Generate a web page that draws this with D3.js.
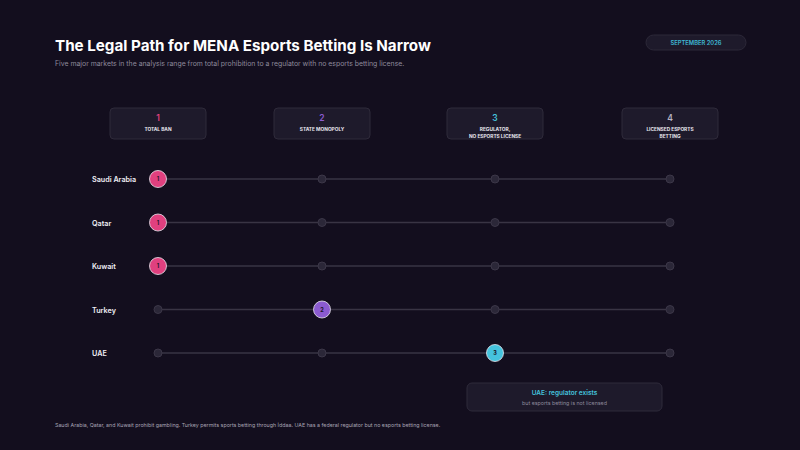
<!DOCTYPE html><html><head><meta charset="utf-8"><script src="https://cdn.jsdelivr.net/npm/d3@7"></script>
<style>body{margin:0;background:#130e1e}svg{display:block;font-family:Inter,sans-serif}</style></head><body><svg width="800" height="450"></svg>
<script>
const stages=[1,2,3,4];
const stageLabels=[["TOTAL BAN"],["STATE MONOPOLY"],["REGULATOR,","NO ESPORTS LICENSE"],["LICENSED ESPORTS","BETTING"]];
const stageColors=["#e0407f","#8b5bd0","#45c3dd","#b9b5c6"];
const countries=["Saudi Arabia","Qatar","Kuwait","Turkey","UAE"];
const countryStage=[1,1,1,2,3];
const svg=d3.select("svg");
svg.append("rect").attr("width",800).attr("height",450).attr("fill","#130e1e");
svg.append("text").attr("x",55).attr("y",51).attr("fill","#fff").attr("font-size",15.2).attr("font-weight",700).text("The Legal Path for MENA Esports Betting Is Narrow");
svg.append("text").attr("x",55).attr("y",66).attr("fill","#8e8a9c").attr("font-size",6.9).text("Five major markets in the analysis range from total prohibition to a regulator with no esports betting license.");
svg.append("rect").attr("x",646).attr("y",35).attr("width",100).attr("height",15).attr("rx",7.5).attr("fill","#1e1a2b").attr("stroke","#2c2838");
svg.append("text").attr("x",696).attr("y",45).attr("text-anchor","middle").attr("fill","#3fb8d4").attr("font-size",5.8).attr("font-weight",600).text("SEPTEMBER 2026");
const x=d3.scaleLinear().domain([1,2,3,4]).range([158,322,495,670]);
const y=d3.scalePoint().domain(countries).range([179,353]);
stages.forEach((s,i)=>{
 const g=svg.append("g").attr("transform",`translate(${x(s)},0)`);
 g.append("rect").attr("x",-48).attr("y",108).attr("width",96).attr("height",31).attr("rx",4).attr("fill","#1e1a2b").attr("stroke","#2e2a3a");
 g.append("text").attr("y",121).attr("text-anchor","middle").attr("fill",stageColors[i]).attr("font-size",8.5).attr("font-weight",600).text(s);
 stageLabels[i].forEach((l,j)=>g.append("text").attr("y",131+j*6.5).attr("text-anchor","middle").attr("fill","#e8e6ee").attr("font-size",4.8).attr("font-weight",700).text(l));
});
countries.forEach((c,i)=>{
 const yy=y(c);
 svg.append("text").attr("x",92).attr("y",yy+3).attr("fill","#f0eef5").attr("font-size",7.2).attr("font-weight",600).text(c);
 svg.append("line").attr("x1",x(1)).attr("x2",x(4)).attr("y1",yy).attr("y2",yy).attr("stroke","#393444").attr("stroke-width",1.5);
 stages.forEach(s=>{ if(s!==countryStage[i]) svg.append("circle").attr("cx",x(s)).attr("cy",yy).attr("r",4).attr("fill","#2b2738").attr("stroke","#3c3748");});
 const s=countryStage[i];
 svg.append("circle").attr("cx",x(s)).attr("cy",yy).attr("r",8.5).attr("fill",stageColors[s-1]).attr("stroke","#e8e6ee").attr("stroke-width",0.8);
 svg.append("text").attr("x",x(s)).attr("y",yy+2).attr("text-anchor","middle").attr("fill","#1a1426").attr("font-size",5.5).attr("font-weight",700).text(s);
});
svg.append("rect").attr("x",467).attr("y",383).attr("width",195).attr("height",28).attr("rx",5).attr("fill","#1e1a2b").attr("stroke","#2e2a3a");
svg.append("text").attr("x",564.5).attr("y",395).attr("text-anchor","middle").attr("fill","#45c3dd").attr("font-size",6.5).attr("font-weight",600).text("UAE: regulator exists");
svg.append("text").attr("x",564.5).attr("y",405).attr("text-anchor","middle").attr("fill","#8e8a9c").attr("font-size",5.3).text("but esports betting is not licensed");
svg.append("text").attr("x",55).attr("y",427).attr("fill","#a8a4b4").attr("font-size",5.3).text("Saudi Arabia, Qatar, and Kuwait prohibit gambling. Turkey permits sports betting through İddaa. UAE has a federal regulator but no esports betting license.");
</script></body></html>
